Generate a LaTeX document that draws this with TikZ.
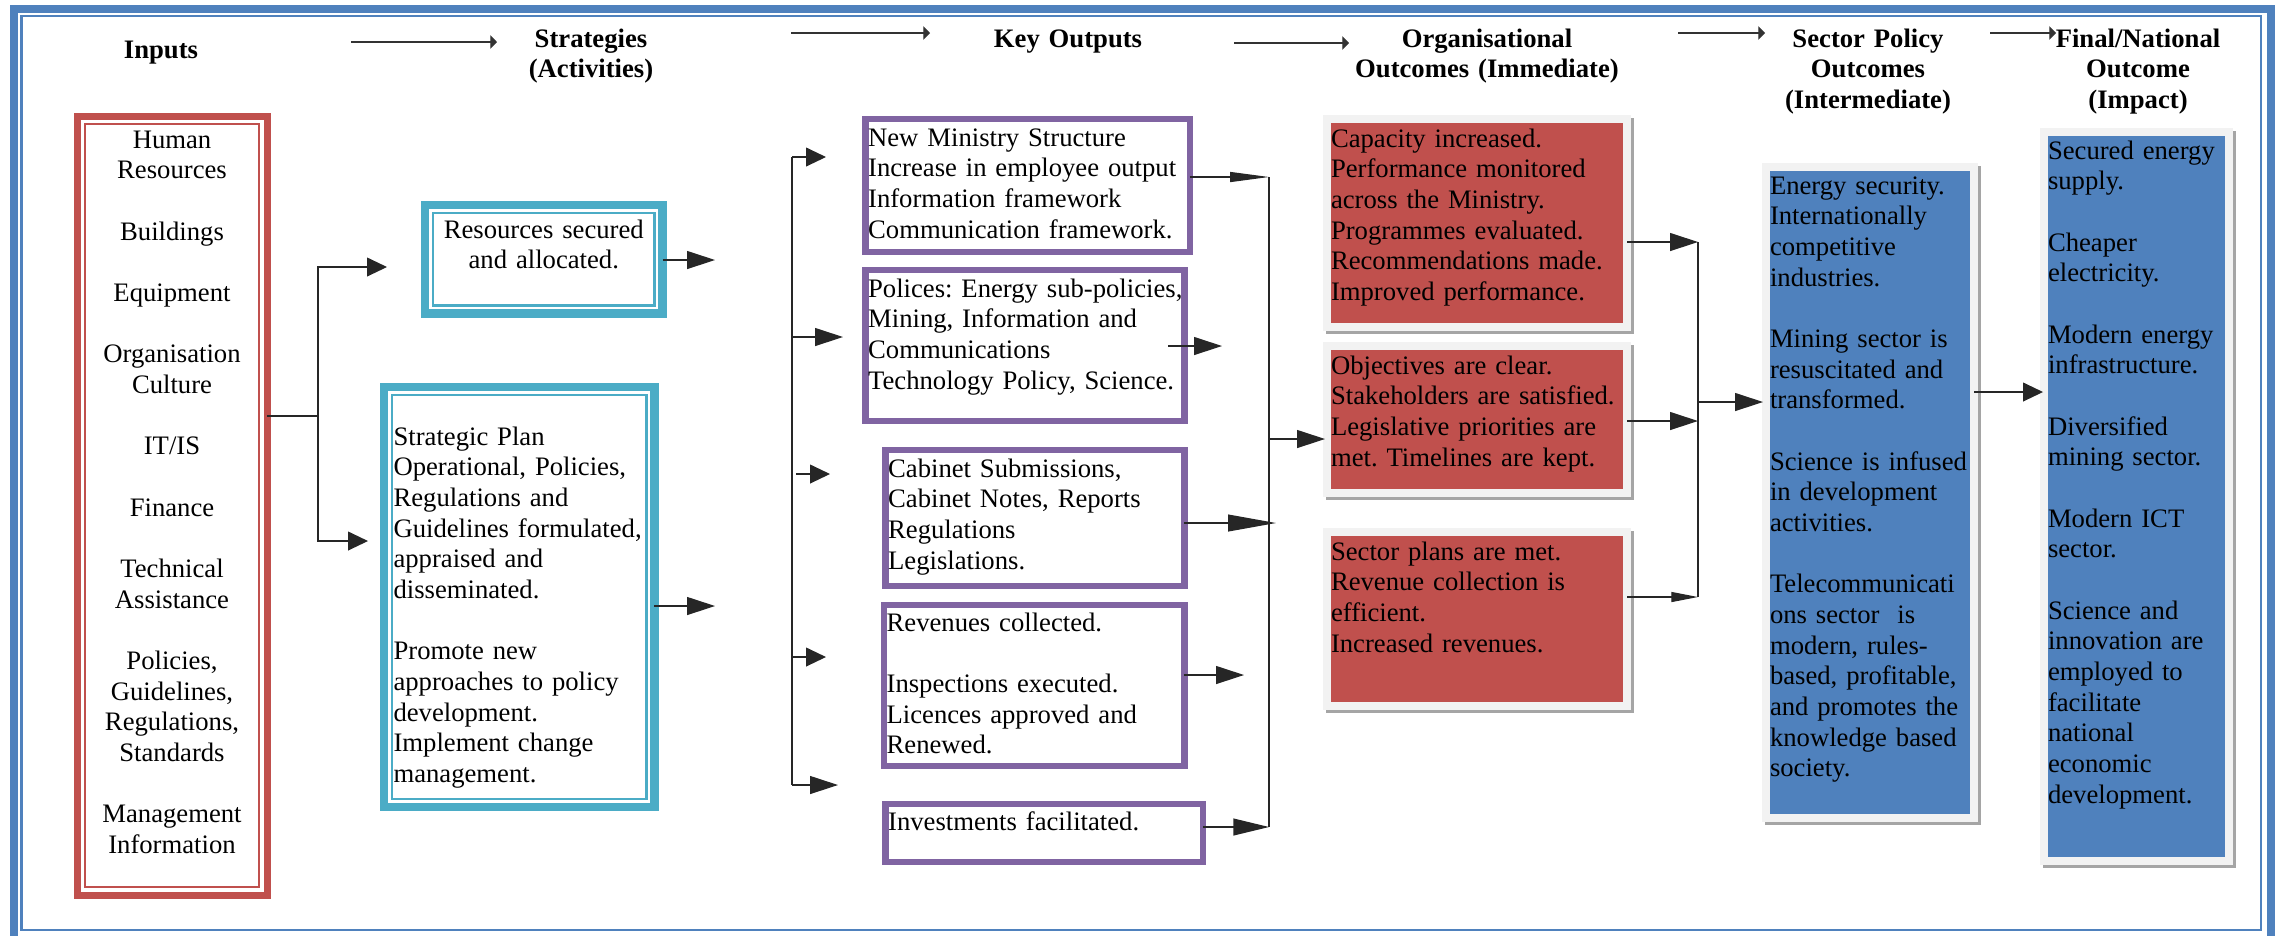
\documentclass[tikz,border=0pt]{standalone}
\usepackage{fontspec}
\setmainfont{Liberation Serif}
\usetikzlibrary{arrows.meta}

\definecolor{frameblue}{HTML}{4F81BD}
\definecolor{inputred}{HTML}{C0504D}
\definecolor{stratcyan}{HTML}{4BACC6}
\definecolor{outpurple}{HTML}{8064A2}
\definecolor{rimgray}{HTML}{F2F2F2}
\definecolor{shadegray}{HTML}{A5A5A5}

\newcommand{\emptyrow}{\\[13.8pt]}

\tikzset{
  every node/.style={font=\frenchspacing\fontsize{12}{13.8}\selectfont, inner ysep=0pt, outer sep=0pt},
  heading/.style={font=\bfseries\fontsize{12}{13.8}\selectfont, text width=135pt, align=center, anchor=base},
  textdims/.style n args={3}{text width=#1, text height=#2, text depth=#3},
  inputbox/.style={draw=inputred, line width=3.15pt, anchor=north west, inner xsep=4.3pt, align=center},
  stratbox/.style={draw=stratcyan, line width=3.8pt, anchor=north west, inner xsep=4.3pt},
  outbox/.style={draw=outpurple, line width=2.9pt, anchor=north west, inner xsep=1.1pt, align=left},
  shadebox/.style={draw=rimgray, line width=3.6pt, anchor=north west, inner xsep=1.8pt, align=left,
    preaction={draw=shadegray, line width=3.6pt, transform canvas={shift={(1.35pt,-1.35pt)}}}},
  orgbox/.style={shadebox, fill=inputred},
  policybox/.style={shadebox, fill=frameblue},
  link/.style={draw=black!85, line width=0.55pt},
  flow/.style={link, -{Triangle[length=12.6pt,width=8.1pt]}},
  flowshort/.style={link, -{Triangle[length=9pt,width=8.5pt]}},
  flowthin/.style={link, -{Triangle[length=17.5pt,width=4.5pt]}},
  headarrow/.style={draw=black!80, line width=0.5pt, -{Triangle[length=3pt,width=6pt]}}
}

\begin{document}
\begin{tikzpicture}[x=0.45pt, y=-0.45pt]
\useasboundingbox (0,0) rectangle (2280,935);
\draw[frameblue, line width=3.6pt] (13.5,8.5) rectangle (2271,940);
\draw[frameblue, line width=1.1pt] (21.5,16) rectangle (2261,930);

% headings
\node[heading] (hInputs) at (161,58) {Inputs};
\node[heading] (hStrat) at (591,47) {Strategies\\(Activities)};
\node[heading] (hOutputs) at (1068,47) {Key Outputs};
\node[heading] (hOrg) at (1487,47) {Organisational\\Outcomes (Immediate)};
\node[heading] (hSector) at (1868,47) {Sector Policy\\Outcomes\\(Intermediate)};
\node[heading] (hFinal) at (2138,47) {Final/National\\Outcome\\(Impact)};

\foreach \i/\xa/\xb/\y in {1/351/497/42, 2/791/930/33, 3/1234/1349/43, 4/1678/1765/33, 5/1990/2056/33} {
  \coordinate (ha\i) at (\xa,\y);
  \coordinate (hb\i) at (\xb,\y);
  \draw[headarrow] (ha\i) -- (hb\i);
}

% boxes
\node[inputbox, textdims={76.9pt}{14.4pt}{336.15pt}] (inputs) at (77,116)
  {Human\\Resources\emptyrow Buildings\emptyrow Equipment\emptyrow Organisation\\Culture\emptyrow IT/IS\emptyrow Finance\emptyrow Technical\\Assistance\emptyrow Policies,\\Guidelines,\\Regulations,\\Standards\emptyrow Management\\Information};

\node[stratbox, align=center, textdims={98.3pt}{14.85pt}{33.98pt}] (res) at (425,205)
  {Resources secured\\and allocated.};
\node[stratbox, align=left, textdims={113.1pt}{26.1pt}{162.9pt}] (strat) at (384,387)
  {Strategic Plan\\Operational, Policies,\\Regulations and\\Guidelines formulated,\\appraised and\\disseminated.\emptyrow Promote new\\approaches to policy\\development.\\Implement change\\management.};
\foreach \b/\c in {inputs/inputred, res/stratcyan, strat/stratcyan}
  \draw[\c, line width=1pt] ([shift={(8,8)}]\b.north west) rectangle ([shift={(-8,-8)}]\b.south east);

\node[outbox, textdims={143.7pt}{12.15pt}{47.7pt}] (out1) at (865.7,119)
  {New Ministry Structure\\Increase in employee output\\Information framework\\Communication framework.};
\node[outbox, textdims={141.17pt}{12.15pt}{55.8pt}] (out2) at (865.7,270)
  {\mbox{Polices: Energy sub-policies,}\\Mining, Information and\\Communications\\Technology Policy, Science.};
\node[outbox, textdims={132.17pt}{12.15pt}{49.05pt}] (out3) at (885.7,450)
  {Cabinet Submissions,\\Cabinet Notes, Reports\\Regulations\\Legislations.};
\node[outbox, textdims={132.85pt}{11.7pt}{60.75pt}] (out4) at (884.2,605)
  {Revenues collected.\emptyrow Inspections executed.\\Licences approved and\\Renewed.};
\node[outbox, textdims={140.5pt}{11.7pt}{14.4pt}] (out5) at (885.7,804)
  {Investments facilitated.};

\node[orgbox, textdims={131.4pt}{12.6pt}{81pt}] (orgA) at (1327,119)
  {Capacity increased.\\Performance monitored\\across the Ministry.\\Programmes evaluated.\\Recommendations made.\\Improved performance.};
\node[orgbox, textdims={131.4pt}{12.6pt}{53.55pt}] (orgB) at (1327,346)
  {Objectives are clear.\\Stakeholders are satisfied.\\Legislative priorities are\\met. Timelines are kept.};
\node[orgbox, textdims={131.4pt}{12.6pt}{65.7pt}] (orgC) at (1327,532)
  {Sector plans are met.\\Revenue collection is\\efficient.\\Increased revenues.};

\node[policybox, textdims={90pt}{12.15pt}{280.8pt}] (sector) at (1766,167)
  {Energy security.\\Internationally\\competitive\\industries.\emptyrow Mining sector is\\resuscitated and\\transformed.\emptyrow Science is infused\\in development\\activities.\emptyrow Telecommunicati\\ons sector\ \ is\\modern, rules-\\based, profitable,\\and promotes the\\knowledge based\\society.};
\node[policybox, textdims={79.65pt}{12.15pt}{315.9pt}] (final) at (2044,132)
  {Secured energy\\supply.\emptyrow Cheaper\\electricity.\emptyrow Modern energy\\infrastructure.\emptyrow Diversified\\mining sector.\emptyrow Modern ICT\\sector.\emptyrow Science and\\innovation are\\employed to\\facilitate\\national\\economic\\development.};

% inputs to strategies
\coordinate (split) at (318,416);
\coordinate (toRes) at (387,267);
\coordinate (toStrat) at (368,541);
\draw[link] (inputs.east |- split) -- (split);
\draw[flowshort] (split) |- (toRes);
\draw[flowshort] (split) |- (toStrat);

\coordinate (resOut) at (715,260);
\coordinate (stratOut) at (715,606);
\draw[flow] (res.east |- resOut) -- (resOut);
\draw[flow] (strat.east |- stratOut) -- (stratOut);

% key outputs
\coordinate (busA) at (792,157);
\coordinate (busB) at (792,785);
\coordinate (k1) at (826,157);
\coordinate (k2) at (843,337);
\coordinate (k3a) at (796,474);
\coordinate (k3) at (830,474);
\coordinate (k4) at (826,657);
\coordinate (k5) at (838,785);
\draw[link] (busA) -- (busB);
\draw[flowshort] (busA) -- (k1);
\draw[flow] (busA |- k2) -- (k2);
\draw[flowshort] (k3a) -- (k3);
\draw[flowshort] (busA |- k4) -- (k4);
\draw[flow] (busB) -- (k5);

\coordinate (mergeA) at (1269,177);
\coordinate (mergeB) at (1269,827);
\coordinate (o2a) at (1168,346);
\coordinate (o2b) at (1222,346);
\coordinate (o3b) at (1276,523);
\coordinate (o4b) at (1244,675);
\coordinate (toOrg) at (1325,439);
\draw[link] (mergeA) -- (mergeB);
\draw[flowthin] (out1.east |- mergeA) -- (mergeA);
\draw[flow] (o2a) -- (o2b);
\draw[link, -{Triangle[length=21.6pt,width=7.6pt]}] (out3.east |- o3b) -- (o3b);
\draw[flow] (out4.east |- o4b) -- (o4b);
\draw[link, -{Triangle[length=16pt,width=7.6pt]}] (out5.east |- mergeB) -- (mergeB);
\draw[flow] (mergeA |- toOrg) -- (toOrg);

% outcomes
\coordinate (orgTop) at (1698,242);
\coordinate (orgMid) at (1698,421);
\coordinate (orgBot) at (1698,597);
\coordinate (toSector) at (1763,402);
\draw[link] (orgTop) -- (orgBot);
\draw[flow] (orgA.east |- orgTop) -- (orgTop);
\draw[flow] (orgB.east |- orgMid) -- (orgMid);
\draw[link, -{Triangle[length=12pt,width=4.5pt]}] (orgC.east |- orgBot) -- (orgBot);
\draw[flow] (orgTop |- toSector) -- (toSector);

\coordinate (toFinal) at (2043,392);
\draw[flowshort] (sector.east |- toFinal) -- (toFinal);
\end{tikzpicture}
\end{document}
